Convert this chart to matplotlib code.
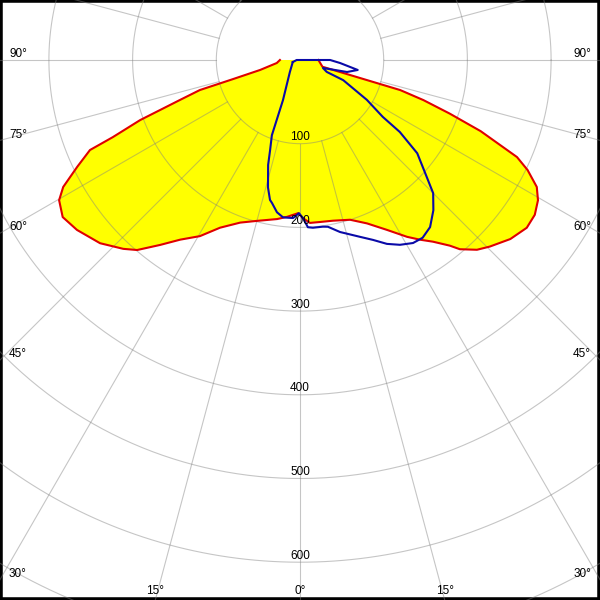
import numpy as np
import matplotlib.pyplot as plt

# luminous intensity (cd/klm), angle from nadir in degrees, negative = left half
# red plane C0-C180 (filled)
red_angle = [-90, -82.6, -76, -74.1, -73.3, -71.6, -69.4, -67.6, -66.8, -64.4,
             -61.8, -59.8, -56.5, -52.7, -47.5, -43.1, -40.6, -37.1, -33.7, -29.6,
             -25.5, -20.2, -15, -8.2, -4.7, -0.7, 1.1, 3.5, 7, 11.6,
             17.4, 22.3, 27.1, 31.2, 33.7, 36.2, 38.9, 40.2, 43, 45.5,
             49.6, 53.5, 56.6, 59.5, 61.8, 64.2, 65.9, 66.5, 68.5, 70.3,
             72.0, 73.3, 73.3, 73.3, 73.3, 90]
red_value = [24, 28, 49, 83, 125, 151, 204, 242, 273, 295,
             321, 333, 340, 335, 324, 309, 299, 277, 258, 242,
             222, 207, 199, 192, 188, 183, 189, 195, 195, 196,
             200, 211, 228, 247, 258, 269, 285, 296, 310, 318,
             330, 337, 336, 330, 321, 302, 284, 270, 232, 190,
             155, 125, 91, 62, 28, 22]

# blue plane C90-C270 (outline only)
blue_angle = [-74, -39.8, -23, -20.5, -18.4, -16.9, -14.1, -12.1, -11.1, -8.6,
              -6.2, -4.7, -2.5, -0.4, 1.1, 2.7, 4.4, 7.8, 9.5, 13.1,
              18.7, 22.1, 25.3, 28.4, 31.7, 34.6, 37.9, 41.6, 45, 47.3,
              51.5, 54.2, 55.5, 59.2, 65, 66, 70.8, 75.7, 80.2, 85.7,
              90, -90, -74]
blue_value = [9, 19, 52, 96, 113, 131, 157, 171, 174, 184,
              189, 189, 189, 183, 189, 200, 201, 201, 202, 211,
              223, 232, 243, 251, 257, 258, 253, 240, 225, 206,
              179, 147, 120, 93, 57, 35, 29, 58, 70, 48,
              36, 4, 9]

ring_values = [100, 200, 300, 400, 500, 600]
side_angles = [90, 75, 60, 45, 30]
bottom_angles = [-15, 0, 15]

PX = 0.837          # pixels per cd/klm
W, TOP, BOT = 300 / PX, 60 / PX, 540 / PX
FONT = dict(fontsize=8.5, family='Liberation Sans', zorder=6)


def to_xy(angle, value):
    a = np.radians(np.asarray(angle, dtype=float))
    v = np.asarray(value, dtype=float)
    return v * np.sin(a), -v * np.cos(a)


fig = plt.figure(figsize=(6, 6), dpi=100)
ax = fig.add_axes([0, 0, 1, 1])
ax.set_xlim(-W, W)
ax.set_ylim(-BOT, TOP)
ax.set_xticks([])
ax.set_yticks([])
for s in ax.spines.values():
    s.set_linewidth(4)
    s.set_color('black')

# curves
rx, ry = to_xy(red_angle, red_value)
ax.fill(rx, ry, color='#ffff00', zorder=1, lw=0)
ax.plot(rx, ry, color='#e00000', lw=1.5, zorder=4, solid_joinstyle='round')
bx, by = to_xy(blue_angle, blue_value)
ax.plot(bx, by, color='#0a0aa8', lw=1.5, zorder=5, solid_joinstyle='round')

# grid
grid_kw = dict(color='#808080', alpha=0.45, lw=0.8, zorder=3)
t = np.linspace(0, 2 * np.pi, 720)
for r in range(100, 900, 100):
    ax.plot(r * np.cos(t), r * np.sin(t), **grid_kw)
for k in range(24):
    x, y = to_xy([k * 15, k * 15], [100, 1000])
    ax.plot(x, y, **grid_kw)

# ring labels
for v in ring_values:
    ax.text(0, -v + 3.5 / PX, str(v), ha='center', va='baseline', **FONT)

# angle labels on the frame
for a in side_angles:
    ye = -W / np.tan(np.radians(a)) if a != 90 else 0
    ax.text(-W + 9 / PX, ye + 2.8 / PX, f'{a}°', ha='left', va='baseline', **FONT)
    ax.text(W - 9 / PX, ye + 2.8 / PX, f'{a}°', ha='right', va='baseline', **FONT)
for a in bottom_angles:
    xe = BOT * np.tan(np.radians(a))
    ax.text(xe, -BOT + 6 / PX, f'{abs(a)}°', ha='center', va='baseline', **FONT)

fig.savefig('out.png', dpi=100)
